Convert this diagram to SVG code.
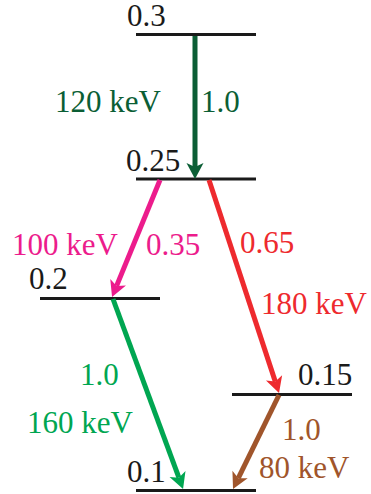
<svg xmlns="http://www.w3.org/2000/svg" width="371" height="494" viewBox="0 0 371 494">
<style>
text{font-family:"Liberation Serif","Times New Roman",serif;font-size:31px;}
.lvl{stroke:#1a1a1a;stroke-width:3;}
.lbl{fill:#1a1a1a;}
.a{stroke-width:5;fill:none;}
</style>
<defs>
<marker id="hdg" markerUnits="userSpaceOnUse" markerWidth="20" markerHeight="20" viewBox="-5 -10 20 20" refX="0" refY="0" orient="auto" overflow="visible"><path d="M12,0 L-4,-8.5 L0,0 L-4,8.5 Z" fill="#0b5e35"/></marker>
<marker id="hpk" markerUnits="userSpaceOnUse" markerWidth="20" markerHeight="20" viewBox="-5 -10 20 20" refX="0" refY="0" orient="auto" overflow="visible"><path d="M12,0 L-4,-8.5 L0,0 L-4,8.5 Z" fill="#ec1c8c"/></marker>
<marker id="hrd" markerUnits="userSpaceOnUse" markerWidth="20" markerHeight="20" viewBox="-5 -10 20 20" refX="0" refY="0" orient="auto" overflow="visible"><path d="M12,0 L-4,-8.5 L0,0 L-4,8.5 Z" fill="#ee2a2e"/></marker>
<marker id="hgr" markerUnits="userSpaceOnUse" markerWidth="20" markerHeight="20" viewBox="-5 -10 20 20" refX="0" refY="0" orient="auto" overflow="visible"><path d="M12,0 L-4,-8.5 L0,0 L-4,8.5 Z" fill="#00a651"/></marker>
<marker id="hbr" markerUnits="userSpaceOnUse" markerWidth="20" markerHeight="20" viewBox="-5 -10 20 20" refX="0" refY="0" orient="auto" overflow="visible"><path d="M12,0 L-4,-8.5 L0,0 L-4,8.5 Z" fill="#a0552b"/></marker>
</defs>
<g id="level-0.3"><line class="lvl" x1="136" y1="34.5" x2="256" y2="34.5"/><text class="lbl" x="127" y="26">0.3</text></g>
<g id="level-0.25"><line class="lvl" x1="136" y1="179" x2="256" y2="179"/><text class="lbl" x="126" y="171">0.25</text></g>
<g id="level-0.2"><line class="lvl" x1="40" y1="298.5" x2="160" y2="298.5"/><text class="lbl" x="29" y="289">0.2</text></g>
<g id="level-0.15"><line class="lvl" x1="232" y1="394.5" x2="352" y2="394.5"/><text class="lbl" x="298" y="385">0.15</text></g>
<g id="level-0.1"><line class="lvl" x1="136" y1="490.5" x2="256" y2="490.5"/><text class="lbl" x="127" y="482">0.1</text></g>
<g id="connectors">
<line class="a" stroke="#0b5e35" x1="195" y1="36" x2="195" y2="167" marker-end="url(#hdg)"/>
<line class="a" stroke="#ec1c8c" x1="160" y1="180" x2="116.6" y2="285.9" marker-end="url(#hpk)"/>
<line class="a" stroke="#ee2a2e" x1="209" y1="180" x2="275.3" y2="381.6" marker-end="url(#hrd)"/>
<line class="a" stroke="#00a651" x1="113" y1="299" x2="178.9" y2="477.7" marker-end="url(#hgr)"/>
<line class="a" stroke="#a0552b" x1="279" y1="395" x2="238.3" y2="478.2" marker-end="url(#hbr)"/>
<text x="55" y="112" fill="#0b5e35">120 keV</text>
<text x="201" y="112" fill="#0b5e35">1.0</text>
<text x="12" y="255" fill="#ec1c8c">100 keV</text>
<text x="146" y="255" fill="#ec1c8c">0.35</text>
<text x="240" y="253" fill="#ee2a2e">0.65</text>
<text x="261" y="314" fill="#ee2a2e">180 keV</text>
<text x="80" y="385" fill="#00a651">1.0</text>
<text x="27" y="433" fill="#00a651">160 keV</text>
<text x="282" y="440" fill="#a0552b">1.0</text>
<text x="259" y="478" fill="#a0552b">80 keV</text>
</g>
</svg>
